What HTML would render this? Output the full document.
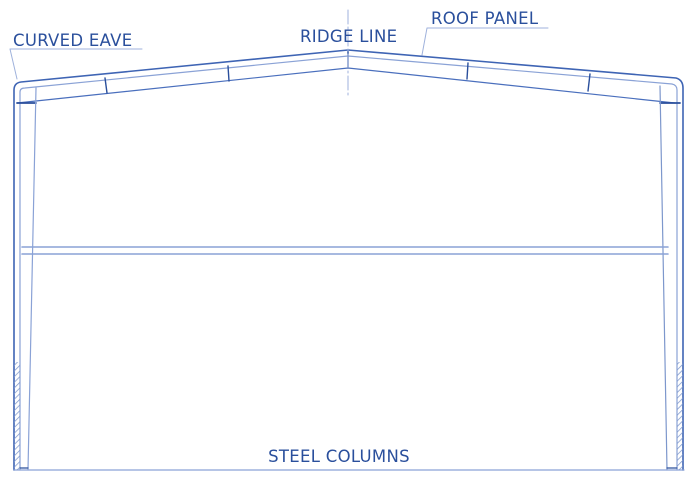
<!DOCTYPE html>
<html><head><style>
body{margin:0;background:#fff}
svg{display:block}
text{font-family:"DejaVu Sans","Liberation Sans",sans-serif;fill:#2a4f9c;font-size:16.5px;letter-spacing:0.3px}
</style></head><body>
<svg width="691" height="483" viewBox="0 0 691 483">
<defs>
<pattern id="h" width="4" height="4" patternUnits="userSpaceOnUse" patternTransform="rotate(45)">
<line x1="0" y1="0" x2="0" y2="4" stroke="#7d97cc" stroke-width="1.5"/></pattern>
</defs>
<g fill="none" stroke-linecap="round">
<path d="M14 470 V90 Q14 83 21 82 L348 50 L676 78 Q683 80 683 88 V470" stroke="#3e64b4" stroke-width="1.6"/>
<path d="M20 470 V92 Q20 88 25 88 L348 56 L672 84 Q677 85 677 90 V470" stroke="#8aa2d6" stroke-width="1.2"/>
<path d="M17 103 L348 68 L675 103" stroke="#4a6fbd" stroke-width="1.2"/>
<path d="M17 103 H36 M660 103 H680" stroke="#2a4f9c" stroke-width="1.8"/>
<path d="M36 88 L28 470" stroke="#8aa2d6" stroke-width="1.2"/>
<path d="M660 86 L667 470" stroke="#7d97cc" stroke-width="1.2"/>
<g stroke="#2a4f9c" stroke-width="1.4">
<path d="M105 78 L107 93"/><path d="M228 66 L229 81"/><path d="M348 51 V68"/>
<path d="M468 63 L467 79"/><path d="M590 74 L588 91"/></g>
<path d="M348 10 V98" stroke="#9fb2dc" stroke-width="1" stroke-dasharray="14 3 2 3"/>
<path d="M22 247 H668 M22 254 H668" stroke="#8aa2d6" stroke-width="1.6"/>
<path d="M14 470 H684" stroke="#8aa2d6" stroke-width="1.2"/>
<path d="M20 468 H28 M667 468 H677" stroke="#2a4f9c" stroke-width="1.2"/>
<path d="M10 49 H142 M10 49 L17 79" stroke="#9fb2dc" stroke-width="1"/>
<path d="M427 28 H548 M427 28 L422 55" stroke="#9fb2dc" stroke-width="1"/>
</g>
<rect x="14" y="362" width="6" height="108" fill="url(#h)"/>
<rect x="677" y="362" width="6" height="108" fill="url(#h)"/>
<text x="13" y="46">CURVED EAVE</text>
<text x="300" y="42">RIDGE LINE</text>
<text x="431" y="24">ROOF PANEL</text>
<text x="339" y="462" text-anchor="middle">STEEL COLUMNS</text>
</svg>
</body></html>
